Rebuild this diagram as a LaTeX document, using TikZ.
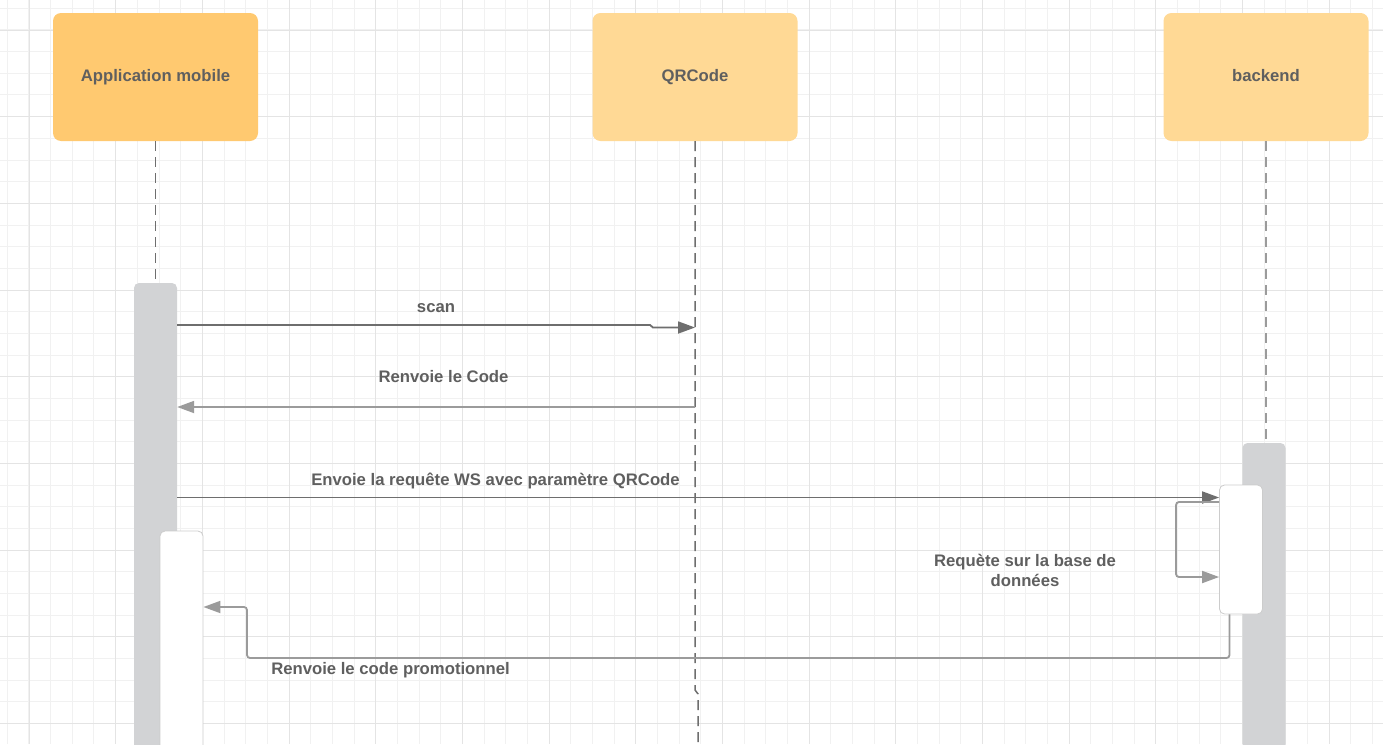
\documentclass[tikz,border=0pt]{standalone}
\usepackage{fontspec}
\setmainfont{Liberation Sans}
\usetikzlibrary{arrows.meta}
\definecolor{appfill}{HTML}{FFC970}
\definecolor{headfill}{HTML}{FFD995}
\definecolor{txtgray}{HTML}{5F5F5F}
\definecolor{darkline}{HTML}{6E6E6E}
\definecolor{lightline}{HTML}{9B9B9B}
\definecolor{barfill}{HTML}{D2D3D5}
\definecolor{gridminor}{HTML}{F1F1F1}
\definecolor{gridmajor}{HTML}{E4E4E4}
\begin{document}
\begin{tikzpicture}
	[	x=1pt,y=-1pt,
	head/.style={rectangle,rounded corners=8pt,fill=headfill,minimum width=205pt,minimum height=128pt,text height=12pt,text depth=3.5pt,font=\fontsize{16.7}{20}\selectfont\bfseries,text=txtgray},
	actbar/.style={rectangle,rounded corners=5pt,fill=barfill,minimum width=43pt,inner sep=0pt},
	actbox/.style={rectangle,rounded corners=5pt,fill=white,draw=black!20,line width=0.8pt,minimum width=43pt,inner sep=0pt},
	lifeline/.style={draw=darkline,line width=1.5pt,dash pattern=on 10pt off 6pt},
	msgdark/.style={draw=darkline,line width=1.8pt,-{Triangle[length=17pt,width=12pt]}},
	msglight/.style={draw=lightline,line width=1.8pt,-{Triangle[length=17pt,width=12pt]}},
	msglabel/.style={font=\fontsize{16.7}{20}\selectfont\bfseries,text=txtgray,inner sep=0pt,align=center}
	]
	\useasboundingbox (0,0) rectangle (1383,744);
	\clip (0,0) rectangle (1383,744);
	\fill[white] (0,0) rectangle (1383,744);
	% grid
	\foreach \i in {0,...,63} \draw[gridminor,line width=1pt] ({7.33+21.667*\i},0) -- ++(0,744);
	\foreach \i in {0,...,33} \draw[gridminor,line width=1pt] (0,{8.33+21.667*\i}) -- ++(1383,0);
	\foreach \i in {0,...,15} \draw[gridmajor,line width=1pt] ({29+86.667*\i},0) -- ++(0,744);
	\foreach \i in {0,...,8} \draw[gridmajor,line width=1pt] (0,{30+86.667*\i}) -- ++(1383,0);
	% participants
	\node[head,fill=appfill] (app) at (155.5,77) {Application mobile};
	\node[head] (qr) at (695,77) {QRCode};
	\node[head] (back) at (1266,77) {backend};
	% activations
	\node[actbar,minimum height=477pt] (appbar) at (155.5,521.5) {};
	\node[actbox,minimum height=229pt] (appact) at (181.5,645.5) {};
	\node[actbar,minimum height=317pt] (backbar) at (1264,601.5) {};
	\node[actbox,minimum height=129pt] (backact) at (1241,549.5) {};
	\coordinate (qrend) at (698,750);
	% lifelines
	\draw[lifeline] (app.south) -- (appbar.north);
	\draw[lifeline] (qr.south) -- (695,690) -- (698,694) -- (qrend);
	\draw[lifeline,draw=lightline] (back.south) -- (back.south |- backbar.north);
	% messages
	\draw[msgdark] (appbar.east |- 0,325) -- (650,325) -- (653,327.5) -- (qr.south |- 0,327.5);
	\node[msglabel] (lscan) at (436,308) {scan};
	\draw[msglight] (qr.south |- 0,407) -- (appbar.east |- 0,407);
	\node[msglabel] (lcode) at (443.5,377) {Renvoie le Code};
	\draw[msgdark] (appbar.east |- 0,497.5) -- (backact.west |- 0,497.5);
	\node[msglabel] (lrequest) at (495.5,481) {Envoie la requête WS avec paramètre QRCode};
	\draw[msglight,rounded corners=3pt] (backact.west |- 0,502) -- (1176,502) -- (1176,577) -- (backact.west |- 0,577);
	\node[msglabel] (lquery) at (1025,570) {Requète sur la base de\\données};
	\draw[msglight,rounded corners=3pt] (backact.south -| 1229.5,0) -- (1229.5,658) -- (247,658) -- (247,607) -- (appact.east |- 0,607);
	\node[msglabel] (lpromo) at (390.5,670) {Renvoie le code promotionnel};
\end{tikzpicture}
\end{document}
